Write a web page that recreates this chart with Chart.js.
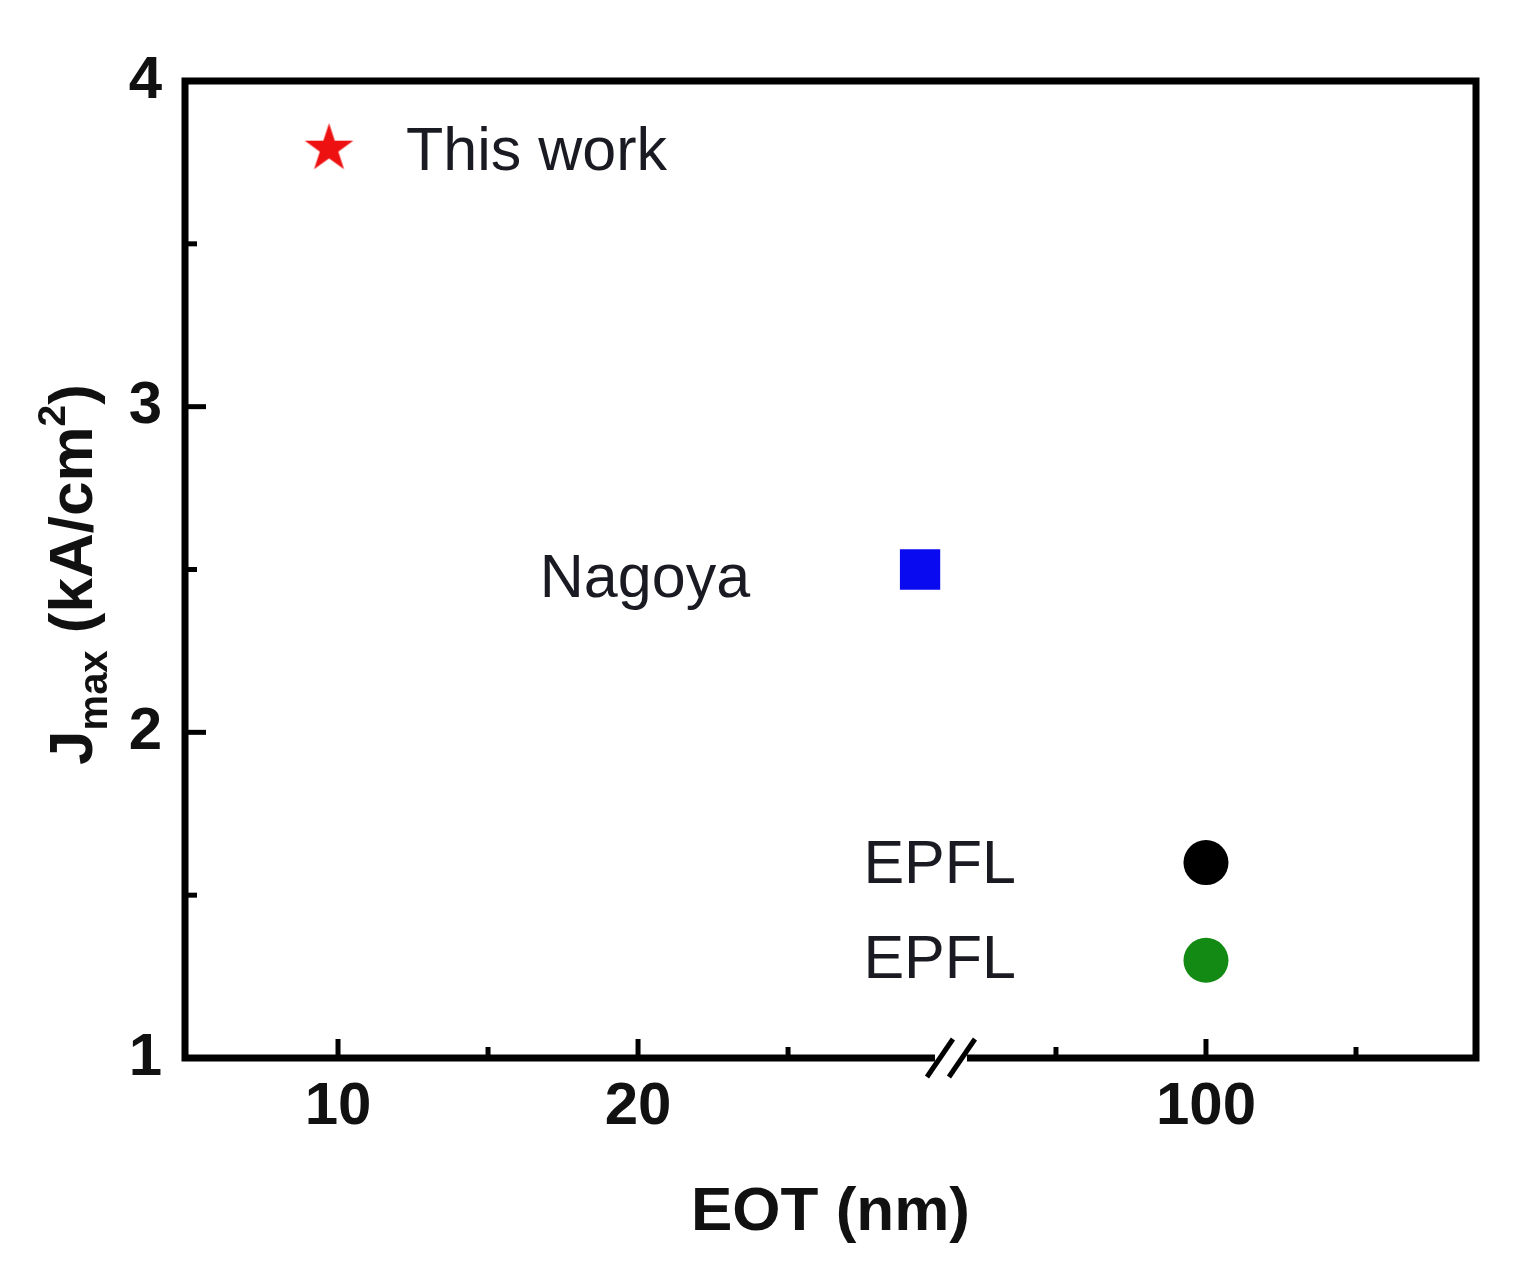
<!DOCTYPE html>
<html><head><meta charset="utf-8">
<script src="https://cdn.jsdelivr.net/npm/chart.js@4/dist/chart.umd.min.js"></script>
<style>html,body{margin:0;padding:0;background:#fff;}canvas{display:block;}</style>
</head><body>
<canvas id="c" width="1532" height="1288"></canvas>
<script>
// ---- data ----
const groups = ['This work', 'Nagoya', 'EPFL', 'EPFL'];
const eot = [9.7, 29.4, 100, 100];          // nm
const jmax = [3.8, 2.5, 1.6, 1.3];          // kA/cm^2
const xMajorTicks = [10, 20, 100];
const xMinorTicks = [15, 25, 75, 125];
const yMajorTicks = [1, 2, 3, 4];
const yMinorTicks = [1.5, 2.5, 3.5];
const xRange = [4.9, 145];
const yRange = [1, 4];

// ---- broken x axis: real value -> axis coordinate ----
const BREAK_LO = 30, BREAK_AXIS = 30.43, POST_ORIGIN = 38.93, POST_SCALE = 0.2;
function toAxis(v) { return v <= BREAK_LO ? v : POST_ORIGIN + (v - 100) * POST_SCALE; }

const FONT = "'Liberation Sans', Arial, Helvetica, sans-serif";
const colors = ['#ee1111', '#0a0af0', '#000000', '#138a13'];

// filled five-point star image for "This work"
function makeStar(R, color) {
  const size = Math.ceil(2 * R + 4);
  const c = document.createElement('canvas');
  c.width = size; c.height = size;
  const g = c.getContext('2d');
  const r = R * 0.382;
  const h = R * (1 + Math.cos(Math.PI / 5));
  const cx = size / 2, cy = size / 2 - h / 2 + R;
  g.beginPath();
  for (let k = 0; k < 10; k++) {
    const rad = k % 2 === 0 ? R : r;
    const a = -Math.PI / 2 + k * Math.PI / 5;
    const px = cx + rad * Math.cos(a), py = cy + rad * Math.sin(a);
    k === 0 ? g.moveTo(px, py) : g.lineTo(px, py);
  }
  g.closePath();
  g.fillStyle = color; g.fill();
  return c;
}
const starImg = makeStar(25.5, colors[0]);
const pointStyles = [starImg, 'rect', 'circle', 'circle'];
const pointRadii = [24, 28.5, 22.5, 22.5];

const datasets = groups.map((g, i) => ({
  label: g,
  data: [{ x: toAxis(eot[i]), y: jmax[i] }],
  pointStyle: pointStyles[i],
  pointRadius: pointRadii[i],
  backgroundColor: colors[i],
  borderColor: colors[i],
  borderWidth: 0
}));

const framePlugin = {
  id: 'frame',
  beforeDatasetsDraw(chart) {
    const { ctx, chartArea: a, scales: { x, y } } = chart;
    ctx.save();
    ctx.strokeStyle = '#000';
    ctx.lineWidth = 7;
    ctx.strokeRect(a.left, a.top, a.right - a.left, a.bottom - a.top);
    ctx.lineWidth = 5;
    ctx.lineCap = 'butt';
    const xt = (v, len) => { const p = x.getPixelForValue(toAxis(v)); ctx.beginPath(); ctx.moveTo(p, a.bottom); ctx.lineTo(p, a.bottom - len); ctx.stroke(); };
    const yt = (v, len) => { const p = y.getPixelForValue(v); ctx.beginPath(); ctx.moveTo(a.left, p); ctx.lineTo(a.left + len, p); ctx.stroke(); };
    xMajorTicks.forEach(v => xt(v, 19));
    xMinorTicks.forEach(v => xt(v, 11));
    yMajorTicks.slice(1, -1).forEach(v => yt(v, 21));
    yMinorTicks.forEach(v => yt(v, 12));
    // axis break
    const bp = x.getPixelForValue(BREAK_AXIS);
    ctx.fillStyle = '#fff';
    ctx.fillRect(bp - 16, a.bottom - 5, 32, 10);
    ctx.lineWidth = 5;
    [-11, 11].forEach(dx => {
      ctx.beginPath();
      ctx.moveTo(bp + dx - 13, a.bottom + 19);
      ctx.lineTo(bp + dx + 13, a.bottom - 19);
      ctx.stroke();
    });
    ctx.restore();
  },
  afterDraw(chart) {
    const { ctx, chartArea: a } = chart;
    // y axis title with subscript / superscript
    const runs = [
      { t: 'J', s: 62, dy: 0 },
      { t: 'max', s: 40, dy: 15 },
      { t: ' (kA/cm', s: 62, dy: 0 },
      { t: '2', s: 39, dy: -27 },
      { t: ')', s: 62, dy: 0 }
    ];
    ctx.save();
    ctx.fillStyle = '#111';
    ctx.textBaseline = 'alphabetic';
    ctx.textAlign = 'left';
    let total = 0;
    runs.forEach(r => { ctx.font = `bold ${r.s}px ${FONT}`; r.w = ctx.measureText(r.t).width; total += r.w; });
    ctx.translate(92, (a.top + a.bottom) / 2 + 5);
    ctx.rotate(-Math.PI / 2);
    let cx = -total / 2;
    runs.forEach(r => { ctx.font = `bold ${r.s}px ${FONT}`; ctx.fillText(r.t, cx, r.dy); cx += r.w; });
    ctx.restore();
  }
};

const labelPlugin = {
  id: 'pointLabels',
  afterDatasetsDraw(chart, args, opts) {
    const { ctx } = chart;
    ctx.save();
    ctx.fillStyle = '#1a1a22';
    ctx.font = `61px ${FONT}`;
    ctx.textBaseline = 'alphabetic';
    groups.forEach((g, i) => {
      const el = chart.getDatasetMeta(i).data[0];
      const o = opts.offsets[i];
      ctx.textAlign = o.align;
      ctx.fillText(g, el.x + o.dx, el.y + o.dy);
    });
    ctx.restore();
  }
};

new Chart(document.getElementById('c'), {
  type: 'scatter',
  data: { datasets },
  plugins: [framePlugin, labelPlugin],
  options: {
    responsive: false,
    animation: false,
    layout: { padding: { left: 0, top: 81, right: 56, bottom: 41 } },
    plugins: {
      legend: { display: false },
      tooltip: { enabled: false },
      pointLabels: {
        offsets: [
          { dx: 77, dy: 24, align: 'left' },
          { dx: -170, dy: 27, align: 'right' },
          { dx: -190, dy: 20, align: 'right' },
          { dx: -190, dy: 18, align: 'right' }
        ]
      }
    },
    scales: {
      x: {
        type: 'linear',
        min: toAxis(xRange[0]),
        max: toAxis(xRange[1]),
        afterBuildTicks(s) { s.ticks = xMajorTicks.map(v => ({ value: toAxis(v) })); },
        afterFit(s) { s.height = 1288 - 41 - 1058; },
        ticks: {
          callback: (v, i) => String(xMajorTicks[i]),
          font: { family: FONT, size: 60, weight: 'bold' },
          color: '#111',
          padding: 13,
          maxRotation: 0,
          autoSkip: false
        },
        grid: { display: false, drawTicks: false },
        border: { display: false },
        title: {
          display: true,
          text: 'EOT (nm)',
          font: { family: FONT, size: 62, weight: 'bold' },
          color: '#111',
          padding: { top: 0, bottom: -3 }
        }
      },
      y: {
        type: 'linear',
        min: yRange[0],
        max: yRange[1],
        afterBuildTicks(s) { s.ticks = yMajorTicks.map(v => ({ value: v })); },
        afterFit(s) { s.width = 185; },
        ticks: {
          callback: v => String(v),
          font: { family: FONT, size: 60, weight: 'bold' },
          color: '#111',
          padding: 23
        },
        grid: { display: false, drawTicks: false },
        border: { display: false }
      }
    }
  }
});
</script>
</body></html>
